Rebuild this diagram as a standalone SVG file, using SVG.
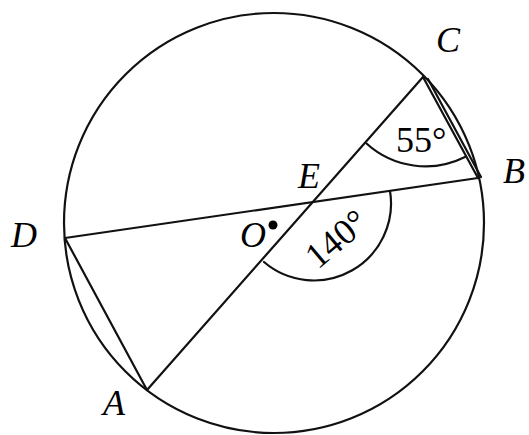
<svg xmlns="http://www.w3.org/2000/svg" width="529" height="435" viewBox="0 0 529 435">
<style>
.ln{stroke:#111;stroke-width:2.2;fill:none;stroke-linecap:round}
.lbl{font-family:"Liberation Serif",serif;font-style:italic;font-size:36px;fill:#000}
.num{font-family:"Liberation Serif",serif;font-size:36px;fill:#000}
</style>
<rect width="529" height="435" fill="#fff"/>
<g id="circle">
<circle class="ln" cx="274" cy="223" r="210"/>
<circle cx="273" cy="225" r="4.5" fill="#000"/>
</g>
<g id="connectors">
<line class="ln" x1="423" y1="77" x2="147" y2="390"/>
<line class="ln" x1="65" y1="238" x2="478" y2="178"/>
<line class="ln" x1="65" y1="238" x2="147" y2="390"/>
<line class="ln" x1="423" y1="77" x2="478" y2="178"/>
<line class="ln" x1="428" y1="79" x2="481" y2="177"/>
<path class="ln" d="M366.5 143.5 A88 88 0 0 0 465 157"/>
<path class="ln" d="M390 191 A77 77 0 0 1 264 262"/>
</g>
<g id="labels">
<text class="lbl" x="436" y="52">C</text>
<text class="lbl" x="503" y="183">B</text>
<text class="lbl" x="298" y="188">E</text>
<text class="lbl" x="11" y="247">D</text>
<text class="lbl" x="240" y="247">O</text>
<text class="lbl" x="103" y="415">A</text>
<text class="num" x="396" y="152">55°</text>
<text class="num" x="0" y="0" text-anchor="middle" transform="translate(344,248) rotate(-40)">140°</text>
</g>
</svg>
